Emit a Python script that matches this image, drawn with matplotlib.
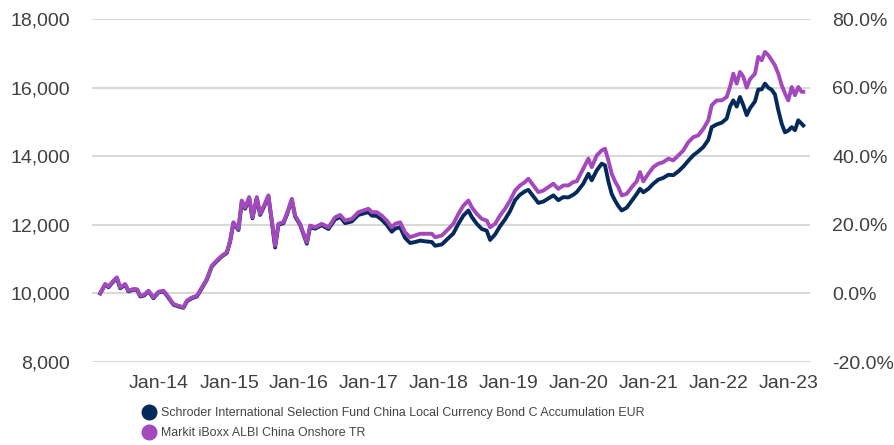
import matplotlib
matplotlib.use("Agg")
import matplotlib.pyplot as plt
from matplotlib.lines import Line2D
from matplotlib.ticker import FuncFormatter, FixedLocator

# time in fractional years
years = [
    2013.157, 2013.229, 2013.276, 2013.347, 2013.396, 2013.443, 2013.514, 2013.561, 2013.633, 2013.686,
    2013.729, 2013.786, 2013.847, 2013.919, 2013.990, 2014.061, 2014.110, 2014.204, 2014.276, 2014.347,
    2014.396, 2014.467, 2014.539, 2014.610, 2014.681, 2014.753, 2014.824, 2014.896, 2014.967, 2015.014,
    2015.061, 2015.133, 2015.181, 2015.229, 2015.286, 2015.333, 2015.396, 2015.443, 2015.490, 2015.561,
    2015.610, 2015.657, 2015.704, 2015.776, 2015.824, 2015.896, 2015.943, 2016.014, 2016.110, 2016.157,
    2016.229, 2016.324, 2016.419, 2016.514, 2016.586, 2016.657, 2016.753, 2016.847, 2016.919, 2016.990,
    2017.039, 2017.110, 2017.181, 2017.253, 2017.324, 2017.371, 2017.443, 2017.514, 2017.586, 2017.657,
    2017.729, 2017.800, 2017.896, 2017.943, 2018.039, 2018.133, 2018.204, 2018.276, 2018.347, 2018.419,
    2018.467, 2018.539, 2018.610, 2018.681, 2018.729, 2018.800, 2018.871, 2018.943, 2019.014, 2019.086,
    2019.157, 2019.229, 2019.276, 2019.347, 2019.419, 2019.490, 2019.561, 2019.633, 2019.704, 2019.776,
    2019.847, 2019.919, 2019.967, 2020.061, 2020.133, 2020.181, 2020.253, 2020.324, 2020.371, 2020.419,
    2020.467, 2020.514, 2020.561, 2020.610, 2020.681, 2020.753, 2020.824, 2020.871, 2020.919, 2020.990,
    2021.061, 2021.133, 2021.204, 2021.276, 2021.347, 2021.419, 2021.490, 2021.561, 2021.633, 2021.704,
    2021.776, 2021.847, 2021.896, 2021.967, 2022.039, 2022.110, 2022.157, 2022.204, 2022.253, 2022.300,
    2022.347, 2022.396, 2022.443, 2022.514, 2022.561, 2022.610, 2022.657, 2022.704, 2022.753, 2022.800,
    2022.847, 2022.896, 2022.943, 2022.990, 2023.039, 2023.086, 2023.133, 2023.181, 2023.204,
]

index_values = [
    10000, 10275, 10200, 10370, 10470, 10175, 10275, 10080, 10130, 10120,
    9930, 9960, 10080, 9880, 10050, 10080, 9960, 9690, 9640, 9600,
    9790, 9880, 9930, 10175, 10420, 10810, 10960, 11100, 11200, 11540,
    12075, 11880, 12710, 12500, 12810, 12220, 12810, 12320, 12520, 12860,
    12125, 11390, 12030, 12080, 12320, 12760, 12270, 12030, 11490, 11980,
    11930, 12030, 11930, 12220, 12290, 12125, 12175, 12370, 12420, 12470,
    12370, 12370, 12270, 12125, 11930, 12030, 12075, 11780, 11640, 11690,
    11740, 11740, 11740, 11640, 11690, 11880, 12030, 12320, 12560, 12710,
    12515, 12320, 12175, 12125, 11930, 12030, 12270, 12470, 12710, 13000,
    13150, 13250, 13345, 13150, 12955, 13000, 13100, 13200, 13050, 13150,
    13150, 13250, 13270, 13640, 13930, 13685, 14025, 14170, 14220, 13880,
    13490, 13270, 13100, 12860, 12905, 13100, 13270, 13540, 13270, 13490,
    13685, 13785, 13830, 13930, 13880, 14025, 14170, 14410, 14560, 14610,
    14800, 15050, 15490, 15630, 15630, 15730, 16020, 16410, 16120, 16460,
    16320, 16000, 16250, 16410, 16900, 16800, 17045, 16950, 16800, 16650,
    16410, 16070, 15830, 15630, 16020, 15780, 16020, 15880, 15880,
]

fund_values = [
    10000, 10260, 10180, 10350, 10440, 10150, 10250, 10060, 10110, 10100,
    9910, 9940, 10060, 9860, 10030, 10060, 9940, 9670, 9620, 9580,
    9770, 9860, 9910, 10150, 10400, 10790, 10940, 11080, 11180, 11510,
    12050, 11850, 12680, 12470, 12780, 12190, 12780, 12290, 12490, 12830,
    12090, 11340, 12000, 12050, 12290, 12730, 12240, 12000, 11450, 11940,
    11890, 11990, 11880, 12160, 12230, 12050, 12100, 12290, 12330, 12370,
    12270, 12260, 12150, 12000, 11800, 11890, 11930, 11620, 11470, 11500,
    11540, 11520, 11500, 11390, 11430, 11610, 11750, 12030, 12270, 12420,
    12230, 12030, 11880, 11830, 11560, 11720, 11960, 12160, 12400, 12720,
    12880, 12980, 13020, 12830, 12640, 12680, 12770, 12860, 12720, 12810,
    12800, 12880, 12955, 13200, 13490, 13300, 13590, 13785, 13735, 13270,
    12900, 12710, 12550, 12420, 12500, 12700, 12900, 13050, 12950, 13050,
    13200, 13320, 13370, 13460, 13450, 13560, 13700, 13870, 14030, 14140,
    14270, 14480, 14850, 14930, 14980, 15100, 15450, 15630, 15450, 15730,
    15490, 15200, 15400, 15600, 15950, 15950, 16120, 16000, 15940, 15800,
    15350, 14950, 14700, 14750, 14850, 14760, 15050, 14950, 14900,
]

tick_years = [2014, 2015, 2016, 2017, 2018, 2019, 2020, 2021, 2022, 2023]
tick_labels = ["Jan-14", "Jan-15", "Jan-16", "Jan-17", "Jan-18",
               "Jan-19", "Jan-20", "Jan-21", "Jan-22", "Jan-23"]

fund_label = "Schroder International Selection Fund China Local Currency Bond C Accumulation EUR"
index_label = "Markit iBoxx ALBI China Onshore TR"

NAVY = "#042a5c"
PURPLE = "#a448bd"
TEXT = "#404040"

plt.rcParams["font.family"] = ["Liberation Sans", "DejaVu Sans"]

fig = plt.figure(figsize=(8.95, 4.45), dpi=100)
ax = fig.add_axes([0.103, 0.1865, 0.802, 0.7705])

ax.plot(years, fund_values, color=NAVY, lw=2.8, solid_joinstyle="round", zorder=3)
ax.plot(years, index_values, color=PURPLE, lw=2.8, solid_joinstyle="round", zorder=4)

ax.set_ylim(8000, 18000)
ax.set_xlim(2013.043, 2023.30)
ax.yaxis.set_major_locator(FixedLocator([8000, 10000, 12000, 14000, 16000, 18000]))
ax.yaxis.set_major_formatter(FuncFormatter(lambda v, p: f"{int(v):,}"))
ax.set_xticks(tick_years)
ax.set_xticklabels(tick_labels)
ax.grid(axis="y", color="#d9d9d9", lw=1.5)
ax.set_axisbelow(True)
for s in ax.spines.values():
    s.set_visible(False)
ax.tick_params(axis="y", length=0, pad=16, labelsize=14, labelcolor=TEXT)
ax.tick_params(axis="x", length=0, pad=9, labelsize=14, labelcolor=TEXT)

ax2 = ax.twinx()
ax2.set_ylim(-20, 80)
ax2.yaxis.set_major_locator(FixedLocator([-20, 0, 20, 40, 60, 80]))
ax2.yaxis.set_major_formatter(FuncFormatter(lambda v, p: f"{v:.1f}%"))
for s in ax2.spines.values():
    s.set_visible(False)
ax2.tick_params(axis="y", length=0, pad=16, labelsize=14, labelcolor=TEXT)

handles = [
    Line2D([], [], ls="none", marker="o", ms=10.5, color=NAVY),
    Line2D([], [], ls="none", marker="o", ms=10.5, color=PURPLE),
]
leg = fig.legend(handles, [fund_label, index_label], loc="upper left",
                 bbox_to_anchor=(0.161, 0.085), frameon=False, fontsize=8.9,
                 handlelength=0.8, handletextpad=0.55, labelspacing=0.62,
                 borderpad=0, borderaxespad=0)
for t in leg.get_texts():
    t.set_color("#444444")

fig.savefig("out.png", dpi=100)
